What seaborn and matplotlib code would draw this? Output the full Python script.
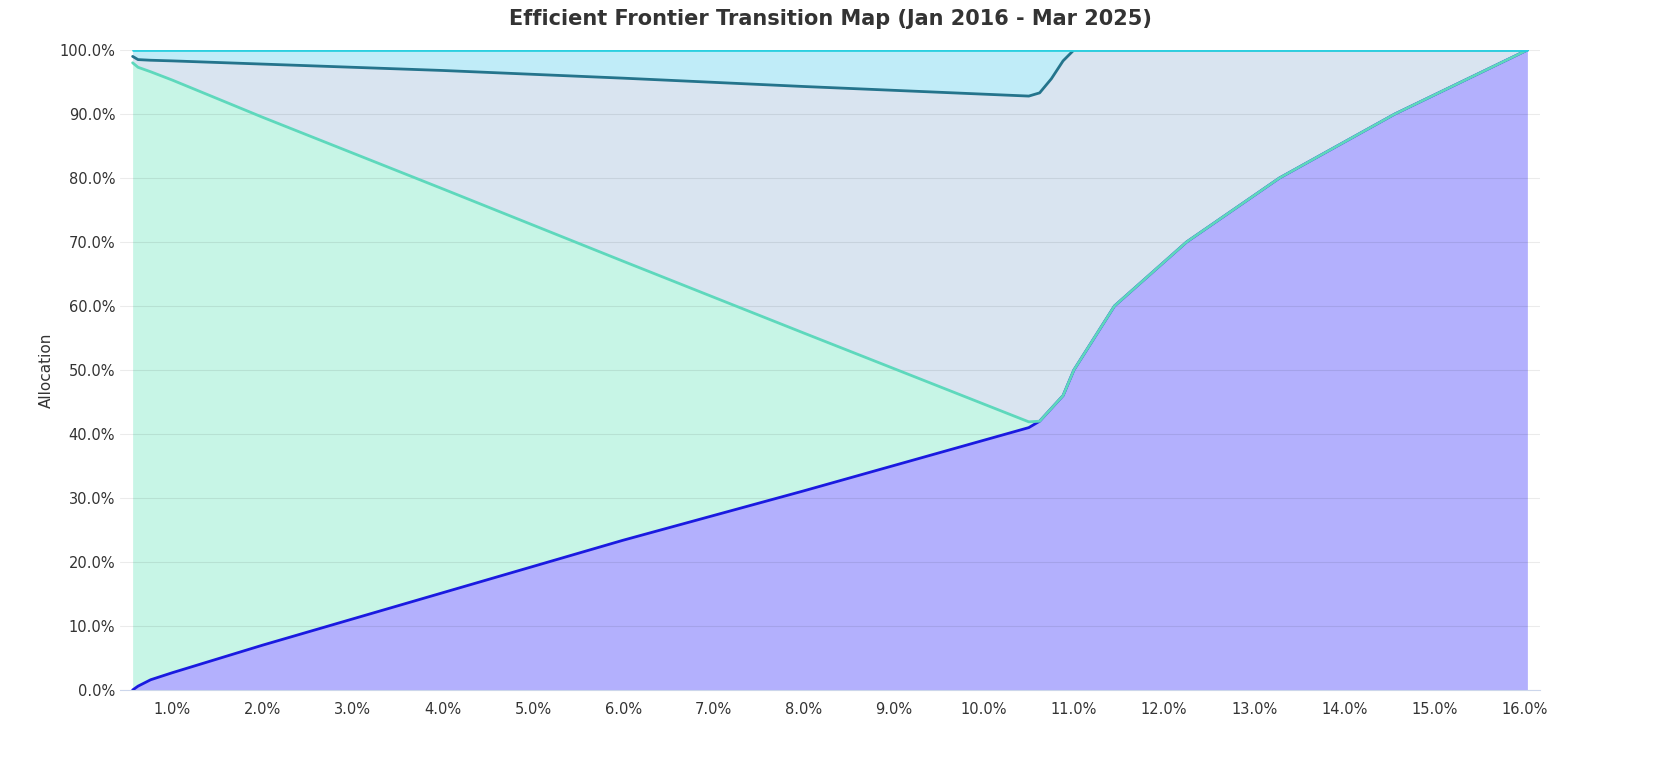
import numpy as np
import pandas as pd
import seaborn as sns
from matplotlib import pyplot as plt
from matplotlib.ticker import FuncFormatter, MultipleLocator

# portfolio volatility (%) along the frontier
vol = [0.56, 0.62, 0.76, 1.0, 2.0, 4.0, 6.0, 8.0, 10.5, 10.62, 10.75, 10.88, 11.0, 11.45, 12.25, 13.28, 14.56, 16.03]
# cumulative allocation (%) at top of each band
purple_top = [0.0, 0.6, 1.6, 2.7, 7.0, 15.2, 23.4, 31.1, 41.0, 42.0, 44.0, 46.0, 50.0, 60.0, 70.0, 80.0, 90.0, 100.0]
green_top = [98.0, 97.3, 96.6, 95.3, 89.5, 78.3, 67.0, 55.8, 41.9, 42.0, 44.0, 46.0, 50.0, 60.0, 70.0, 80.0, 90.0, 100.0]
grey_top = [99.0, 98.5, 98.4, 98.3, 97.8, 96.8, 95.6, 94.3, 92.8, 93.3, 95.5, 98.3, 100.0, 100.0, 100.0, 100.0, 100.0, 100.0]
cyan_top = [100.0] * len(vol)

bands = [
    ("purple", purple_top, "#b3b0fd", "#1a1ae0"),
    ("green", green_top, "#c7f5e6", "#5ed8bc"),
    ("grey", grey_top, "#d9e4f0", "#24748c"),
    ("cyan", cyan_top, "#c0ecf8", "#2ccfe0"),
]

plt.rcParams["font.family"] = "Roboto"
sns.set_style("white")
fig = plt.figure(figsize=(16.62, 7.7), dpi=100)
ax = fig.add_axes([120 / 1662, 80 / 770, 1420 / 1662, 640 / 770])

lower = np.zeros(len(vol))
for name, top, fill, line in bands:
    ax.fill_between(vol, lower, top, color=fill, lw=0, zorder=1)
    lower = np.array(top)
for i, (name, top, fill, line) in enumerate(bands):
    df = pd.DataFrame({"vol": vol, "alloc": top})
    sns.lineplot(data=df, x="vol", y="alloc", color=line, lw=2, ax=ax, zorder=3 + i)

ax.set_xlim(0.42, 16.17)
ax.set_ylim(0, 100)
ax.yaxis.set_major_locator(MultipleLocator(10))
ax.xaxis.set_major_formatter(FuncFormatter(lambda v, p: f"{v:.1f}%"))
ax.yaxis.set_major_formatter(FuncFormatter(lambda v, p: f"{v:.1f}%"))
ax.set_xticks(np.arange(1, 17))
ax.grid(axis="y", color="#000000", alpha=0.08, lw=0.8, zorder=2)
ax.set_axisbelow(False)
for s in ("top", "right", "left"):
    ax.spines[s].set_visible(False)
ax.spines["bottom"].set_color("#ccd6eb")
ax.tick_params(axis="both", labelsize=10.5, colors="#333333", length=0)
ax.tick_params(axis="x", length=5, color="#ccd6eb")
ax.set_xlabel("")
ax.set_ylabel("Allocation", fontsize=11, color="#333333")
ax.set_title("Efficient Frontier Transition Map (Jan 2016 - Mar 2025)",
             fontsize=15, fontweight="bold", color="#333333", pad=18)
fig.savefig("out.png", dpi=100)
